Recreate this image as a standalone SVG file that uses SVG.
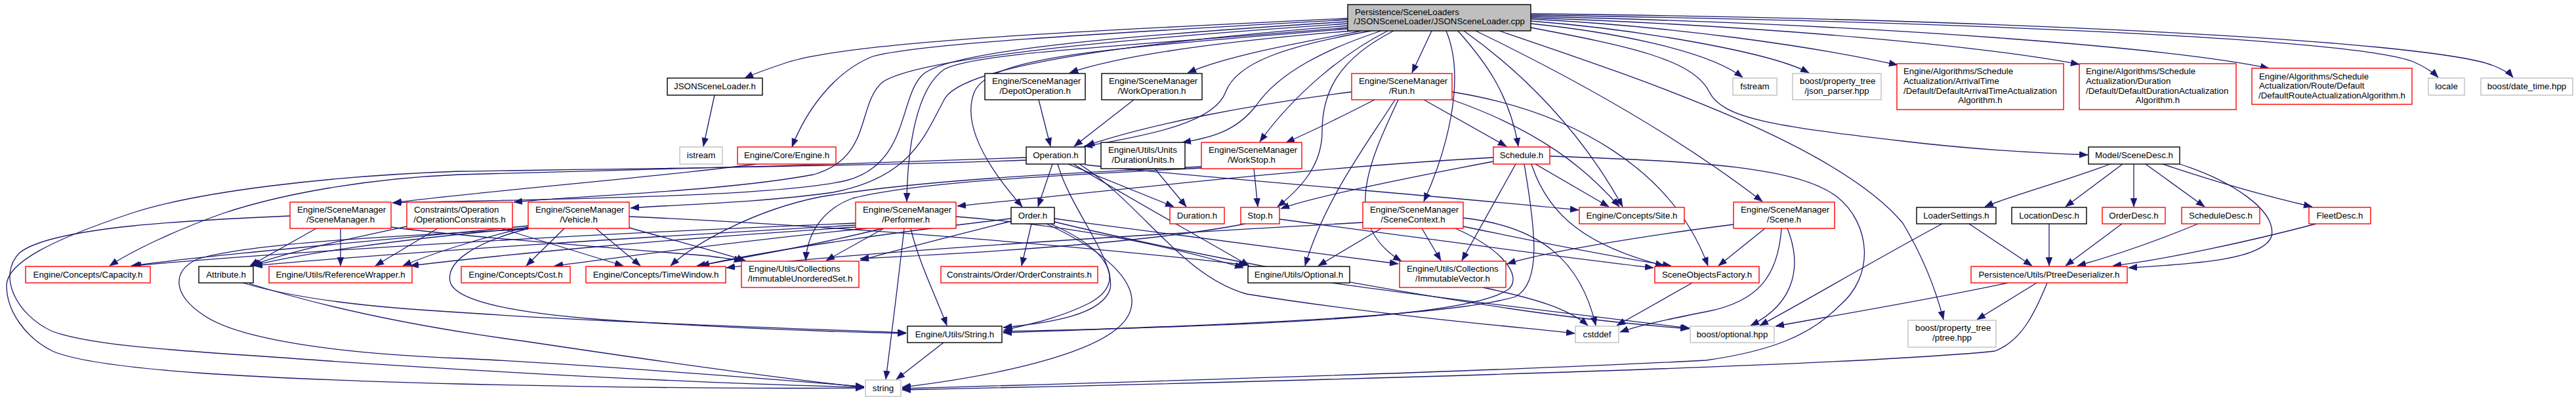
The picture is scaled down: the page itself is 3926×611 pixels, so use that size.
<svg xmlns="http://www.w3.org/2000/svg" width="3926" height="611" viewBox="0 0 3926 611">
<style>
rect{fill:#fff;stroke-width:1.4}
.r{stroke:#ff0000}
.k{stroke:#000}
.g{stroke:#bfbfbf}
text{font-family:"Liberation Sans",Arial,sans-serif;font-size:13.3px;fill:#000}
.m{text-anchor:middle}
.e path{fill:none;stroke:#191970;stroke-width:1.3;marker-end:url(#a)}
</style>
<defs>
<marker id="a" markerUnits="userSpaceOnUse" markerWidth="14" markerHeight="11" refX="13" refY="5" orient="auto"><path d="M0,0 L13,5 L0,10 z" fill="#191970" stroke="#191970" stroke-width="0.5"/></marker>
</defs>
<rect width="3926" height="611" style="fill:#fff;stroke:none"/>
<g id="edges" class="e">
<path d="M2054,28 C1700,45 1300,62 1200,95 C1170,105 1150,112 1135,119"/>
<path d="M2054,30 C1700,50 1400,66 1330,86 C1270,110 1228,170 1207,224"/>
<path d="M2054,33 C1700,55 1440,78 1405,115 C1370,150 1385,250 1290,275 C1180,300 850,303 598,309"/>
<path d="M2054,36 C1700,60 1400,88 1345,125 C1305,160 1330,240 1240,266 C1100,292 880,298 783,308"/>
<path d="M2054,39 C1720,66 1470,100 1440,150 C1410,205 1390,270 1270,293 C1150,310 1020,312 961,317"/>
<path d="M2054,42 C1700,72 1490,80 1440,105 C1395,135 1383,230 1382,307"/>
<path d="M2054,44 C1680,75 1510,85 1485,140 C1465,190 1505,255 1558,315"/>
<path d="M2060,47 C1900,60 1720,80 1630,111"/>
<path d="M2075,47 C1980,65 1870,85 1810,111"/>
<path d="M2090,47 C1960,70 1885,95 1868,140 C1852,185 1760,205 1652,223"/>
<path d="M2105,47 C2020,75 1950,110 1915,160 C1885,200 1845,210 1802,217"/>
<path d="M2115,47 C2050,80 1975,140 1920,216"/>
<path d="M2124,47 C2040,90 2015,140 2015,200 C2015,250 1985,285 1947,315"/>
<path d="M2182,47 L2152,111"/>
<path d="M2204,47 C2235,120 2205,230 2170,307"/>
<path d="M2222,47 C2260,90 2300,140 2314,223"/>
<path d="M2231,47 C2320,110 2410,200 2473,315"/>
<path d="M2249,47 C2400,120 2560,210 2686,307"/>
<path d="M2285,47 C2500,120 2800,220 2900,340 C2930,390 2950,440 2962,487"/>
<path d="M2333,42 C2480,70 2580,90 2605,140 C2625,180 2700,192 2900,215 C3000,227 3100,233 3182,236"/>
<path d="M2333,36 C2450,48 2600,75 2656,118"/>
<path d="M2333,32 C2500,45 2700,80 2757,111"/>
<path d="M2333,29 C2550,40 2760,70 2892,99"/>
<path d="M2333,27 C2700,40 3020,70 3169,98"/>
<path d="M2333,25 C2900,38 3320,75 3458,104"/>
<path d="M2333,23 C3000,33 3600,60 3680,95 C3698,103 3710,112 3716,118"/>
<path d="M2333,21 C3000,28 3700,60 3800,100 C3815,106 3825,112 3830,118"/>
<path d="M1089,145 L1072,223"/>
<path d="M1583,152 L1601,223"/>
<path d="M1728,152 L1637,223"/>
<path d="M1153,250 C1000,270 750,290 599,309"/>
<path d="M1604,250 L1582,315"/>
<path d="M1628,250 L1789,315"/>
<path d="M1654,251 C1800,268 2100,290 2406,320"/>
<path d="M1636,250 C1700,290 1800,345 1904,405"/>
<path d="M1645,250 C1740,310 1800,420 1900,448 C2100,480 2300,497 2400,508"/>
<path d="M1612,250 C1632,320 1700,395 1692,440 C1680,480 1600,492 1529,499"/>
<path d="M1564,240 C1300,250 900,262 700,266 C560,272 430,295 340,325 C270,350 205,380 167,405"/>
<path d="M1564,244 C1300,254 900,258 700,261 C500,268 300,292 200,325 C80,365 10,400 10,435 C10,475 40,515 80,535 C150,565 400,577 700,585 C1000,592 1200,592 1317,591"/>
<path d="M482,348 L381,405"/>
<path d="M519,348 L519,405"/>
<path d="M442,329 C300,335 80,345 30,385 C-5,420 25,480 80,505 C150,530 300,535 500,550 C800,570 1100,585 1317,590"/>
<path d="M596,346 C700,360 900,375 1080,390 C1100,393 1120,395 1132,398"/>
<path d="M620,345 C550,360 430,385 383,405"/>
<path d="M667,348 L572,405"/>
<path d="M763,348 L950,405"/>
<path d="M860,348 L802,405"/>
<path d="M908,348 L976,405"/>
<path d="M959,347 C1040,370 1100,385 1136,397"/>
<path d="M805,346 C720,365 650,390 614,405"/>
<path d="M805,344 C600,365 350,385 200,405"/>
<path d="M805,347 C600,365 450,388 385,405"/>
<path d="M806,348 C720,370 680,400 686,429 C692,455 760,475 918,487 C1100,500 1250,505 1381,508"/>
<path d="M805,349 C600,360 380,370 300,395 C260,415 265,450 310,480 C360,515 500,538 700,546 C900,555 1200,580 1317,589"/>
<path d="M959,330 C1300,345 1700,380 1901,404"/>
<path d="M1347,348 L1259,397"/>
<path d="M1378,348 C1370,420 1360,500 1350,578"/>
<path d="M1388,348 C1400,400 1430,460 1443,496"/>
<path d="M1304,340 C1000,352 500,378 202,405"/>
<path d="M1304,343 C1000,360 600,385 387,405"/>
<path d="M1304,346 C1000,365 750,390 625,405"/>
<path d="M1320,348 C1100,370 950,392 845,405"/>
<path d="M1345,348 C1250,372 1120,395 1062,405"/>
<path d="M1457,330 C1650,345 1800,380 1895,408"/>
<path d="M1572,341 L1557,405"/>
<path d="M1541,337 C1450,360 1350,385 1311,397"/>
<path d="M1541,333 C1350,355 1150,385 1068,405"/>
<path d="M1601,341 C1690,380 1720,430 1660,462 C1620,482 1580,492 1530,503"/>
<path d="M1595,341 C1700,390 1740,440 1720,480 C1690,540 1500,575 1375,590"/>
<path d="M1607,333 C1800,360 2000,385 2131,402"/>
<path d="M1607,338 C1800,385 2100,440 2300,470 C2400,485 2500,495 2574,501"/>
<path d="M1911,257 L1917,315"/>
<path d="M1831,254 C1600,265 1400,275 1250,300 C1150,320 1060,370 1022,405"/>
<path d="M1831,256 C1600,268 1400,277 1300,302 C1250,320 1230,360 1228,397"/>
<path d="M1760,257 L1808,315"/>
<path d="M1898,341 C1750,370 1500,385 1311,394"/>
<path d="M1950,334 C2150,360 2400,395 2520,408"/>
<path d="M2060,140 C1900,160 1750,190 1655,222"/>
<path d="M2095,152 C2050,175 2000,200 1960,217"/>
<path d="M2126,152 C2090,210 2020,300 1989,405"/>
<path d="M2131,152 C2090,240 2040,340 2136,398"/>
<path d="M2170,152 L2296,223"/>
<path d="M2213,152 C2350,200 2420,260 2468,315"/>
<path d="M2213,140 C2400,170 2550,260 2603,405"/>
<path d="M2276,240 C2000,255 1700,290 1459,314"/>
<path d="M2276,246 C2150,270 2000,300 1952,318"/>
<path d="M2310,250 L2228,397"/>
<path d="M2323,250 C2340,350 2350,430 2310,452 C2200,485 1800,497 1529,507"/>
<path d="M2334,250 C2360,330 2420,375 2536,405"/>
<path d="M2340,250 L2452,315"/>
<path d="M2362,238 C2600,246 2740,255 2800,300 C2850,340 2860,420 2801,468 C2760,510 2700,535 2600,549 C2300,565 1800,580 1375,592"/>
<path d="M2105,348 L2009,405"/>
<path d="M2167,348 L2196,397"/>
<path d="M2230,332 C2350,345 2410,400 2432,496"/>
<path d="M2230,345 C2350,370 2450,390 2547,405"/>
<path d="M2218,348 C2290,380 2320,420 2300,440 C2250,478 2000,495 1529,505"/>
<path d="M2077,339 C1700,360 1300,385 1107,408"/>
<path d="M2642,342 C2500,360 2350,385 2297,402"/>
<path d="M2690,348 L2619,405"/>
<path d="M2715,348 C2710,420 2680,460 2600,475 C2550,485 2500,495 2469,506"/>
<path d="M2724,348 C2745,400 2740,460 2668,496"/>
<path d="M2579,431 L2464,496"/>
<path d="M2030,431 C2200,455 2450,485 2575,500"/>
<path d="M2260,438 C2340,455 2390,470 2420,496"/>
<path d="M1438,522 L1366,578"/>
<path d="M370,431 C450,455 560,468 700,476 C900,490 1200,500 1381,507"/>
<path d="M380,432 C500,470 650,500 800,520 C1000,550 1200,578 1317,590"/>
<path d="M3216,250 C3150,275 3060,300 3025,315"/>
<path d="M3235,250 L3148,315"/>
<path d="M3252,250 L3252,315"/>
<path d="M3270,250 L3360,315"/>
<path d="M3296,250 C3400,285 3480,305 3524,315"/>
<path d="M3322,250 C3400,275 3470,320 3462,360 C3450,395 3350,402 3244,408"/>
<path d="M2960,341 C2850,400 2750,460 2682,496"/>
<path d="M3001,341 L3097,405"/>
<path d="M3123,341 L3123,405"/>
<path d="M3234,341 L3148,405"/>
<path d="M3350,341 C3280,370 3220,390 3166,405"/>
<path d="M3530,341 C3420,370 3300,395 3220,405"/>
<path d="M3060,431 C2950,455 2800,480 2706,497"/>
<path d="M3104,431 L3013,487"/>
<path d="M3120,431 C3100,480 3080,520 3040,535 C2800,560 1800,585 1375,594"/>
</g>
<g id="root"><rect x="2054" y="7" width="279" height="40" class="k" style="fill:#bfbfbf"/><text x="2065" y="23">Persistence/SceneLoaders</text><text x="2193.5" y="37" class="m">/JSONSceneLoader/JSONSceneLoader.cpp</text></g>
<g id="jsl"><rect x="1017" y="119" width="145" height="26" class="k"/><text x="1089.5" y="136" class="m">JSONSceneLoader.h</text></g>
<g id="depotop"><rect x="1501" y="112" width="153" height="40" class="k"/><text x="1512" y="128">Engine/SceneManager</text><text x="1577.5" y="143" class="m">/DepotOperation.h</text></g>
<g id="workop"><rect x="1679" y="112" width="153" height="40" class="k"/><text x="1690" y="128">Engine/SceneManager</text><text x="1755.5" y="143" class="m">/WorkOperation.h</text></g>
<g id="run"><rect x="2060" y="112" width="153" height="40" class="r"/><text x="2071" y="128">Engine/SceneManager</text><text x="2136.5" y="143" class="m">/Run.h</text></g>
<g id="fstream"><rect x="2641" y="119" width="67" height="26" class="g"/><text x="2674.5" y="136" class="m">fstream</text></g>
<g id="jsonparser"><rect x="2732" y="112" width="135" height="40" class="g"/><text x="2743" y="128">boost/property_tree</text><text x="2799.5" y="143" class="m">/json_parser.hpp</text></g>
<g id="arralg"><rect x="2891" y="97" width="254" height="70" class="r"/><text x="2901" y="113">Engine/Algorithms/Schedule</text><text x="2901" y="128">Actualization/ArrivalTime</text><text x="2901" y="143">/Default/DefaultArrivalTimeActualization</text><text x="3018" y="157" class="m">Algorithm.h</text></g>
<g id="duralg"><rect x="3169" y="97" width="239" height="70" class="r"/><text x="3179" y="113">Engine/Algorithms/Schedule</text><text x="3179" y="128">Actualization/Duration</text><text x="3179" y="143">/Default/DefaultDurationActualization</text><text x="3288.5" y="157" class="m">Algorithm.h</text></g>
<g id="routealg"><rect x="3432" y="104" width="244" height="55" class="r"/><text x="3443" y="121">Engine/Algorithms/Schedule</text><text x="3443" y="135">Actualization/Route/Default</text><text x="3554" y="150" class="m">/DefaultRouteActualizationAlgorithm.h</text></g>
<g id="locale"><rect x="3701" y="119" width="55" height="26" class="g"/><text x="3728.5" y="136" class="m">locale</text></g>
<g id="datetime"><rect x="3781" y="119" width="140" height="26" class="g"/><text x="3851" y="136" class="m">boost/date_time.hpp</text></g>
<g id="istream"><rect x="1036" y="224" width="65" height="26" class="g"/><text x="1068.5" y="241" class="m">istream</text></g>
<g id="engine"><rect x="1124" y="224" width="150" height="26" class="r"/><text x="1199" y="241" class="m">Engine/Core/Engine.h</text></g>
<g id="operation"><rect x="1564" y="224" width="90" height="26" class="k"/><text x="1609" y="241" class="m">Operation.h</text></g>
<g id="durunits"><rect x="1678" y="217" width="128" height="40" class="k"/><text x="1689" y="233">Engine/Utils/Units</text><text x="1742" y="248" class="m">/DurationUnits.h</text></g>
<g id="workstop"><rect x="1831" y="217" width="153" height="40" class="r"/><text x="1842" y="233">Engine/SceneManager</text><text x="1907.5" y="248" class="m">/WorkStop.h</text></g>
<g id="schedule"><rect x="2276" y="224" width="86" height="26" class="r"/><text x="2319" y="241" class="m">Schedule.h</text></g>
<g id="scenedesc"><rect x="3183" y="224" width="139" height="26" class="k"/><text x="3252.5" y="241" class="m">Model/SceneDesc.h</text></g>
<g id="scenemanager"><rect x="442" y="308" width="154" height="40" class="r"/><text x="453" y="324">Engine/SceneManager</text><text x="519" y="339" class="m">/SceneManager.h</text></g>
<g id="opconstr"><rect x="620" y="308" width="161" height="40" class="r"/><text x="631" y="324">Constraints/Operation</text><text x="700.5" y="339" class="m">/OperationConstraints.h</text></g>
<g id="vehicle"><rect x="805" y="308" width="154" height="40" class="r"/><text x="816" y="324">Engine/SceneManager</text><text x="882" y="339" class="m">/Vehicle.h</text></g>
<g id="performer"><rect x="1304" y="308" width="153" height="40" class="r"/><text x="1315" y="324">Engine/SceneManager</text><text x="1380.5" y="339" class="m">/Performer.h</text></g>
<g id="order"><rect x="1541" y="316" width="66" height="25" class="k"/><text x="1574" y="333" class="m">Order.h</text></g>
<g id="duration"><rect x="1783" y="316" width="83" height="25" class="r"/><text x="1824.5" y="333" class="m">Duration.h</text></g>
<g id="stop"><rect x="1891" y="316" width="59" height="25" class="r"/><text x="1920.5" y="333" class="m">Stop.h</text></g>
<g id="scenecontext"><rect x="2077" y="308" width="153" height="40" class="r"/><text x="2088" y="324">Engine/SceneManager</text><text x="2153.5" y="339" class="m">/SceneContext.h</text></g>
<g id="site"><rect x="2407" y="316" width="160" height="25" class="r"/><text x="2487" y="333" class="m">Engine/Concepts/Site.h</text></g>
<g id="scene"><rect x="2642" y="308" width="154" height="40" class="r"/><text x="2653" y="324">Engine/SceneManager</text><text x="2719" y="339" class="m">/Scene.h</text></g>
<g id="loadersettings"><rect x="2921" y="316" width="121" height="25" class="k"/><text x="2981.5" y="333" class="m">LoaderSettings.h</text></g>
<g id="locationdesc"><rect x="3066" y="316" width="114" height="25" class="k"/><text x="3123" y="333" class="m">LocationDesc.h</text></g>
<g id="orderdesc"><rect x="3204" y="316" width="96" height="25" class="r"/><text x="3252" y="333" class="m">OrderDesc.h</text></g>
<g id="scheduledesc"><rect x="3325" y="316" width="119" height="25" class="r"/><text x="3384.5" y="333" class="m">ScheduleDesc.h</text></g>
<g id="fleetdesc"><rect x="3519" y="316" width="94" height="25" class="r"/><text x="3566" y="333" class="m">FleetDesc.h</text></g>
<g id="capacity"><rect x="39" y="406" width="190" height="25" class="r"/><text x="134" y="423" class="m">Engine/Concepts/Capacity.h</text></g>
<g id="attribute"><rect x="303" y="406" width="83" height="25" class="k"/><text x="344.5" y="423" class="m">Attribute.h</text></g>
<g id="refwrap"><rect x="410" y="406" width="218" height="25" class="r"/><text x="519" y="423" class="m">Engine/Utils/ReferenceWrapper.h</text></g>
<g id="cost"><rect x="703" y="406" width="166" height="25" class="r"/><text x="786" y="423" class="m">Engine/Concepts/Cost.h</text></g>
<g id="timewindow"><rect x="893" y="406" width="213" height="25" class="r"/><text x="999.5" y="423" class="m">Engine/Concepts/TimeWindow.h</text></g>
<g id="immuset"><rect x="1130" y="398" width="179" height="40" class="r"/><text x="1141" y="414">Engine/Utils/Collections</text><text x="1219.5" y="429" class="m">/ImmutableUnorderedSet.h</text></g>
<g id="orderconstr"><rect x="1434" y="406" width="239" height="25" class="r"/><text x="1553.5" y="423" class="m">Constraints/Order/OrderConstraints.h</text></g>
<g id="optional"><rect x="1902" y="406" width="155" height="25" class="k"/><text x="1979.5" y="423" class="m">Engine/Utils/Optional.h</text></g>
<g id="immvec"><rect x="2133" y="398" width="162" height="40" class="r"/><text x="2144" y="414">Engine/Utils/Collections</text><text x="2214" y="429" class="m">/ImmutableVector.h</text></g>
<g id="sof"><rect x="2522" y="406" width="159" height="25" class="r"/><text x="2601.5" y="423" class="m">SceneObjectsFactory.h</text></g>
<g id="ptreedes"><rect x="3004" y="406" width="238" height="25" class="r"/><text x="3123" y="423" class="m">Persistence/Utils/PtreeDeserializer.h</text></g>
<g id="stringh"><rect x="1383" y="497" width="144" height="25" class="k"/><text x="1455" y="514" class="m">Engine/Utils/String.h</text></g>
<g id="cstddef"><rect x="2401" y="497" width="66" height="25" class="g"/><text x="2434" y="514" class="m">cstddef</text></g>
<g id="boostopt"><rect x="2576" y="497" width="128" height="25" class="g"/><text x="2640" y="514" class="m">boost/optional.hpp</text></g>
<g id="ptreehpp"><rect x="2908" y="488" width="134" height="41" class="g"/><text x="2919" y="504">boost/property_tree</text><text x="2975" y="519" class="m">/ptree.hpp</text></g>
<g id="string"><rect x="1319" y="579" width="54" height="25" class="g"/><text x="1346" y="596" class="m">string</text></g>
</svg>
